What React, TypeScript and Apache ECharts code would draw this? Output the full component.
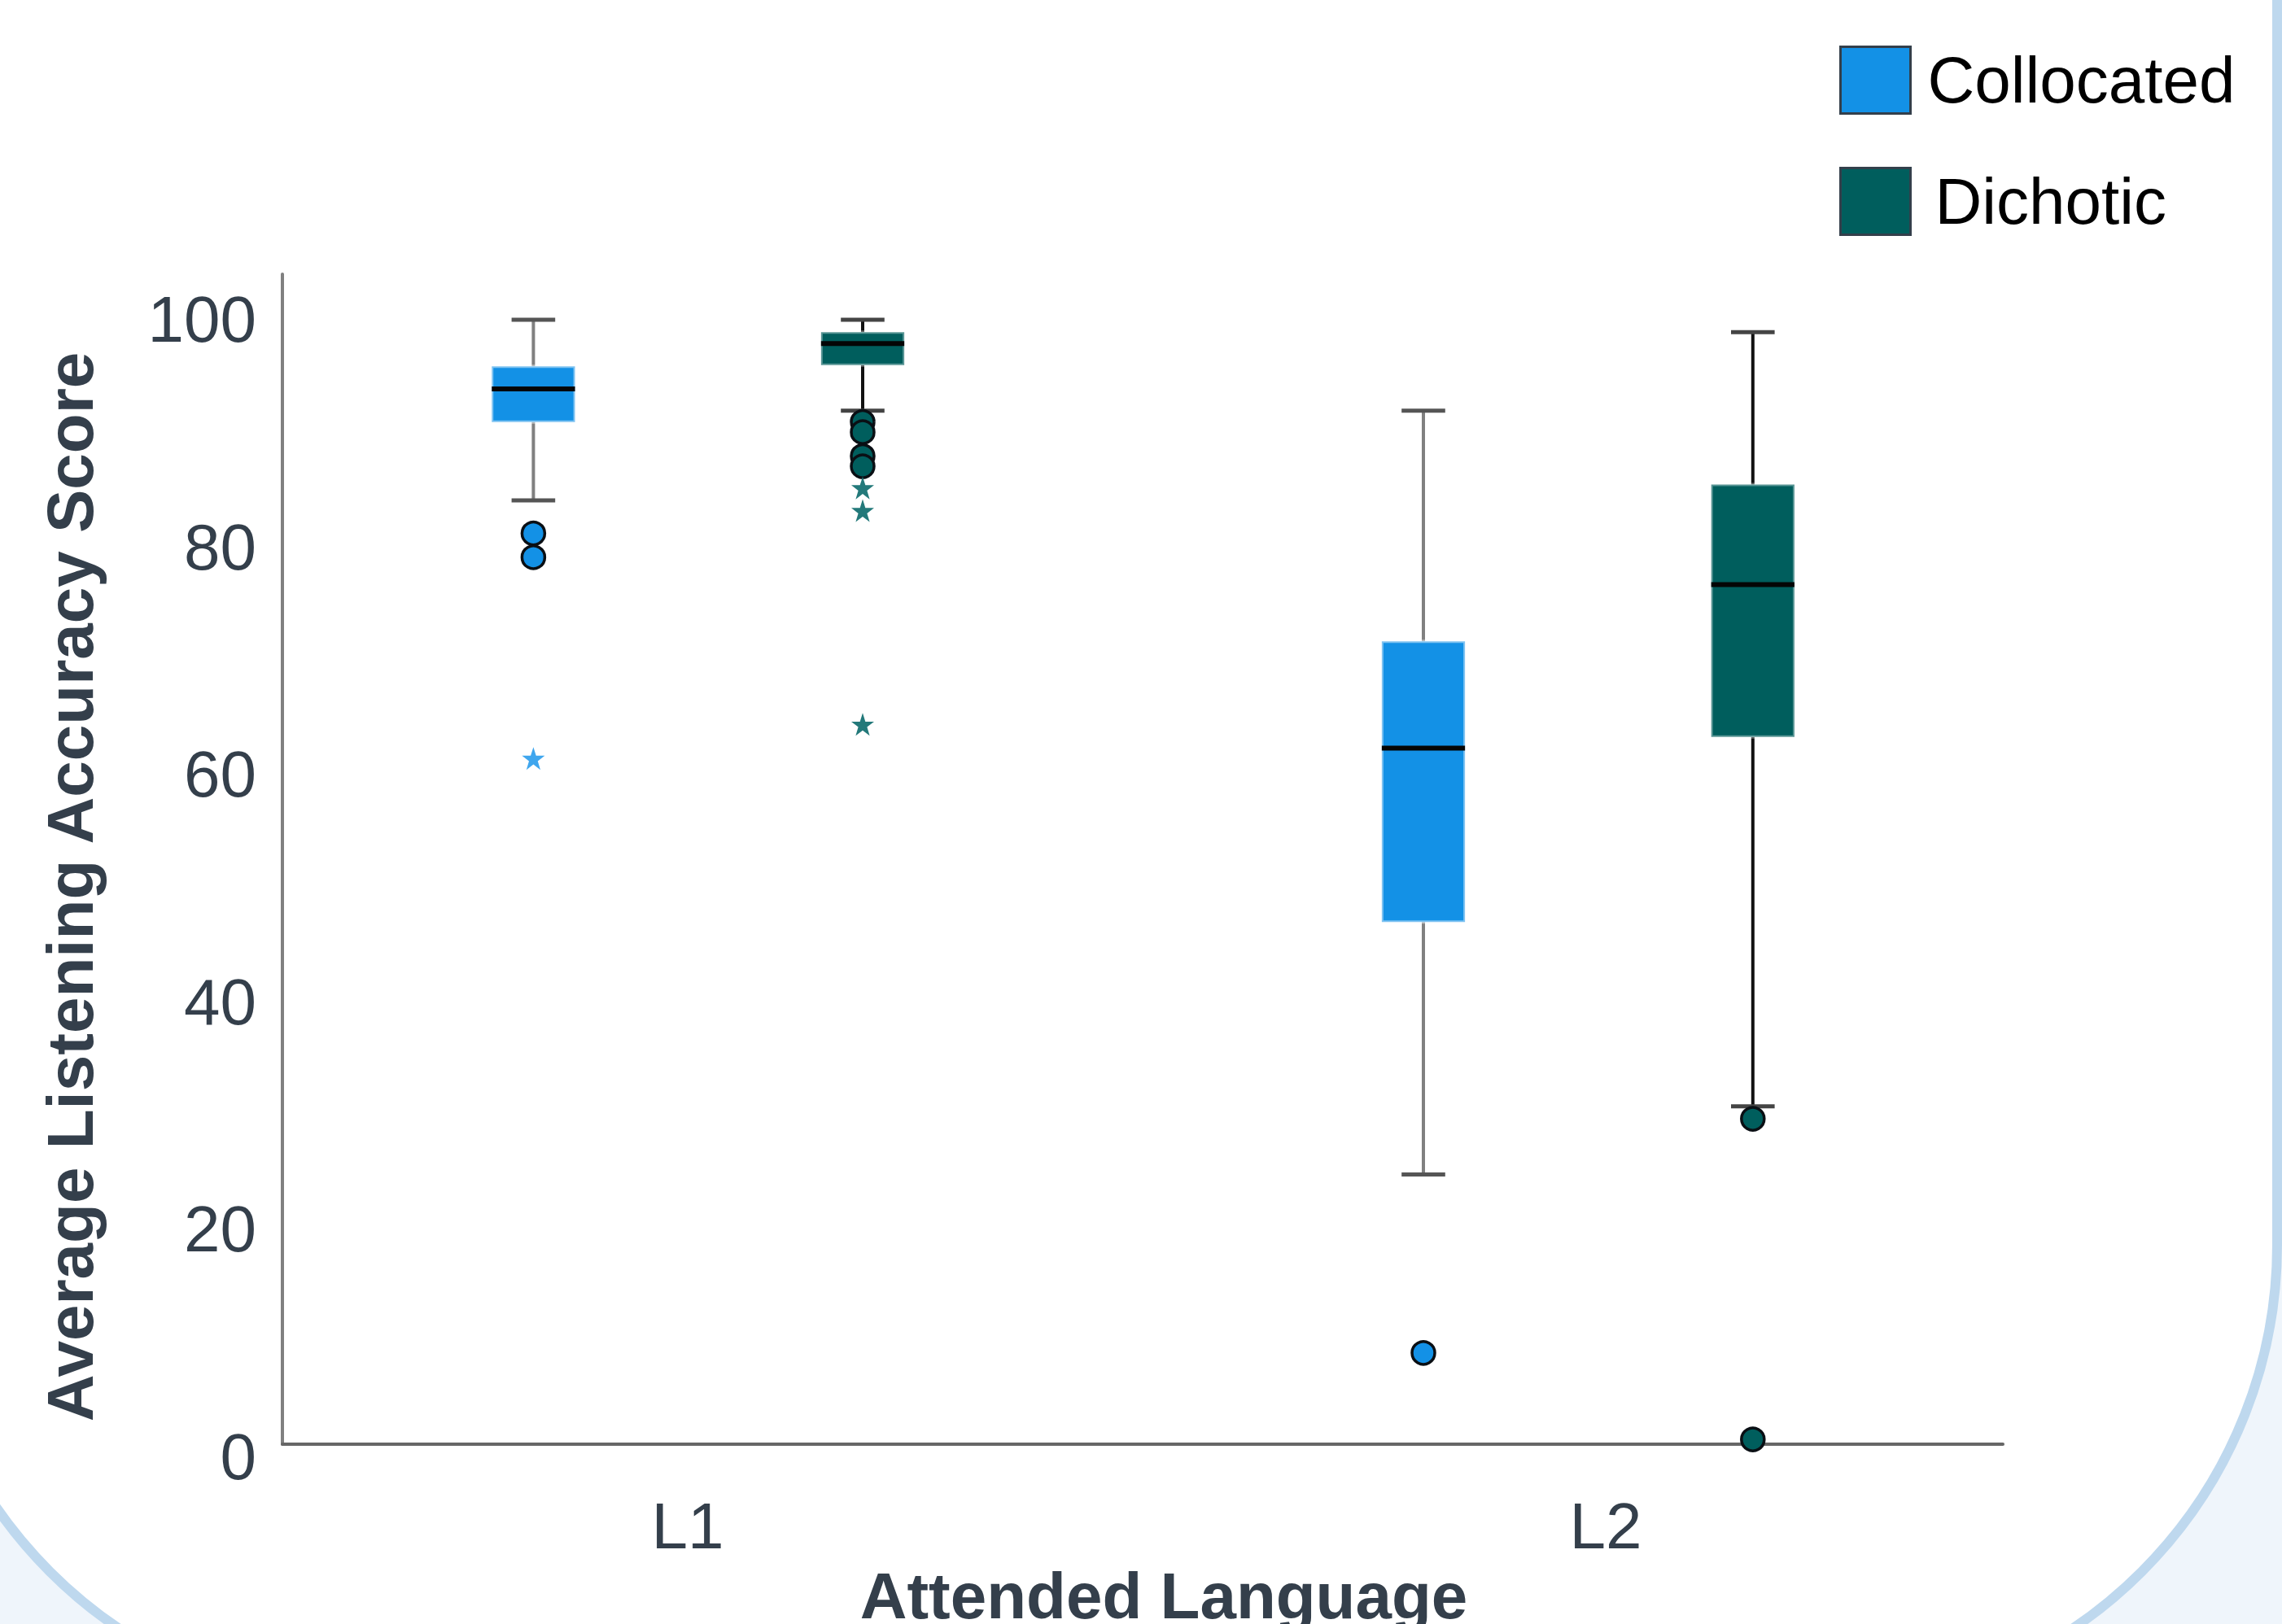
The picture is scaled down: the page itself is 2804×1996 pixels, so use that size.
import React, { useEffect, useRef } from 'react';
import * as echarts from 'echarts';

// ---------- data ----------
const categories = ['L1', 'L2'];
const seriesNames = ['Collocated', 'Dichotic'];
// [whisker low, Q1, median, Q3, whisker high]
const collocatedStats = [
  [84.1, 91.0, 93.9, 95.9, 100],
  [24.8, 47.0, 62.3, 71.7, 92.0],
];
const dichoticStats = [
  [92.0, 96.0, 97.9, 98.9, 100],
  [30.8, 63.3, 76.7, 85.5, 98.9],
];
// mild outliers (circles)
const collocatedOutliers = [['L1', 81.2], ['L1', 79.1], ['L2', 9.1]];
const dichoticOutliers = [['L1', 91.0], ['L1', 90.1], ['L1', 88.0], ['L1', 87.1], ['L2', 29.7], ['L2', 1.5]];
// extreme outliers (stars)
const collocatedExtremes = [['L1', 61.4]];
const dichoticExtremes = [['L1', 85.2], ['L1', 83.2], ['L1', 64.4]];
// y axis
const yMin = 0;
const yMax = 104;
const yInterval = 20;

// ---------- style ----------
const FONT = '"Liberation Sans", Arial, Helvetica, sans-serif';
const BLUE = '#1391E6';
const TEAL = '#005E5D';
const INK = '#343F4B';
const STAR = 'path://M12,0 L14.7,8.4 L23.4,8.4 L16.4,13.6 L19,22 L12,16.8 L5,22 L7.6,13.6 L0.6,8.4 L9.3,8.4 Z';

function makeRenderer(fill: string, boxStroke: string, whisker: string, cap: string) {
  return (params: any, api: any) => {
    const idx = api.value(0);
    const band = api.size([1, 0])[0];
    const bw = band * 0.0935;
    const cw = band * 0.049;
    const pMin = api.coord([idx, api.value(1)]);
    const pQ1 = api.coord([idx, api.value(2)]);
    const pMed = api.coord([idx, api.value(3)]);
    const pQ3 = api.coord([idx, api.value(4)]);
    const pMax = api.coord([idx, api.value(5)]);
    const x = pMed[0];
    return {
      type: 'group',
      children: [
        { type: 'line', shape: { x1: x, y1: pMax[1], x2: x, y2: pQ3[1] }, style: { stroke: whisker, lineWidth: 4 } },
        { type: 'line', shape: { x1: x, y1: pQ1[1], x2: x, y2: pMin[1] }, style: { stroke: whisker, lineWidth: 4 } },
        { type: 'line', shape: { x1: x - cw / 2, y1: pMax[1], x2: x + cw / 2, y2: pMax[1] }, style: { stroke: cap, lineWidth: 5 } },
        { type: 'line', shape: { x1: x - cw / 2, y1: pMin[1], x2: x + cw / 2, y2: pMin[1] }, style: { stroke: cap, lineWidth: 5 } },
        {
          type: 'rect',
          shape: { x: x - bw / 2, y: pQ3[1], width: bw, height: pQ1[1] - pQ3[1] },
          style: { fill, stroke: boxStroke, lineWidth: 4 },
        },
        { type: 'line', shape: { x1: x - bw / 2, y1: pMed[1], x2: x + bw / 2, y2: pMed[1] }, style: { stroke: '#050505', lineWidth: 6 } },
      ],
    };
  };
}

const hiddenX = (g: number) => ({ type: 'category', data: categories, gridIndex: g, show: false });
const hiddenY = (g: number) => ({ type: 'value', min: yMin, max: yMax, interval: yInterval, gridIndex: g, show: false });

const option: any = {
  animation: false,
  backgroundColor: '#EFF5FB',
  textStyle: { fontFamily: FONT },
  graphic: [
    {
      type: 'rect',
      z: -10,
      silent: true,
      shape: { x: -105, y: -600, width: 2903, height: 2698, r: 568 },
      style: { fill: '#FFFFFF', stroke: '#BED8EE', lineWidth: 12 },
    },
    {
      type: 'text',
      x: 86,
      y: 1090,
      rotation: Math.PI / 2,
      style: {
        text: 'Average Listening Accuracy Score',
        fontSize: 80,
        fontWeight: 'bold',
        fontFamily: FONT,
        fill: INK,
        align: 'center',
        verticalAlign: 'middle',
      },
    },
    {
      type: 'text',
      x: 1430,
      y: 1961,
      style: {
        text: 'Attended Language',
        fontSize: 80,
        fontWeight: 'bold',
        fontFamily: FONT,
        fill: INK,
        align: 'center',
        verticalAlign: 'middle',
      },
    },
  ],
  legend: {
    orient: 'vertical',
    left: 2260,
    top: 56,
    padding: 0,
    itemGap: 64,
    itemWidth: 86,
    itemHeight: 82,
    textStyle: { fontSize: 80, color: '#000000', fontFamily: FONT, padding: [0, 0, 0, 16], lineHeight: 82 },
    data: [
      { name: seriesNames[0], icon: 'rect', itemStyle: { color: BLUE, borderColor: '#333F4B', borderWidth: 3 } },
      {
        name: seriesNames[1],
        icon: 'rect',
        itemStyle: { color: TEAL, borderColor: '#333F4B', borderWidth: 3 },
        textStyle: { fontSize: 80, color: '#000000', fontFamily: FONT, padding: [0, 0, 0, 25], lineHeight: 82 },
      },
    ],
  },
  grid: [
    { left: 108.6, right: 508.2, top: 337, bottom: 206, outerBoundsMode: 'none' },
    { left: 513.1, right: 103.3, top: 337, bottom: 206, outerBoundsMode: 'none' },
    { left: 347, right: 343, top: 337, bottom: 206, outerBoundsMode: 'none' },
    { left: 347, right: 343, top: 337, bottom: 221, outerBoundsMode: 'none' },
    { left: 281, right: 267, top: 337, bottom: 221, outerBoundsMode: 'none' },
  ],
  xAxis: [
    hiddenX(0),
    hiddenX(1),
    hiddenX(2),
    {
      type: 'category',
      data: categories,
      gridIndex: 3,
      axisLine: { show: true, lineStyle: { color: '#666666', width: 4 } },
      axisTick: { show: false },
      axisLabel: { show: false },
      splitLine: { show: false },
    },
    {
      type: 'category',
      data: categories,
      gridIndex: 4,
      axisLine: { show: false },
      axisTick: { show: false },
      axisLabel: { show: true, margin: 60, fontSize: 80, color: INK, fontFamily: FONT },
      splitLine: { show: false },
    },
  ],
  yAxis: [
    hiddenY(0),
    hiddenY(1),
    {
      type: 'value',
      gridIndex: 2,
      min: yMin,
      max: yMax,
      interval: yInterval,
      axisLine: { show: false },
      axisTick: { show: false },
      splitLine: { show: false },
      axisLabel: {
        show: true,
        margin: 32,
        fontSize: 80,
        color: INK,
        fontFamily: FONT,
        formatter: (v: number) => (v % yInterval === 0 ? String(v) : ''),
      },
    },
    {
      type: 'value',
      gridIndex: 3,
      min: yMin,
      max: yMax,
      interval: yInterval,
      axisLine: { show: true, lineStyle: { color: '#808080', width: 4 } },
      axisTick: { show: false },
      axisLabel: { show: false },
      splitLine: { show: false },
    },
    { type: 'value', gridIndex: 4, min: yMin, max: yMax, interval: yInterval, show: false },
  ],
  series: [
    {
      name: seriesNames[0],
      type: 'custom',
      xAxisIndex: 0,
      yAxisIndex: 0,
      itemStyle: { color: BLUE },
      encode: { x: 0, y: [1, 2, 3, 4, 5] },
      data: categories.map((c, i) => [i, ...collocatedStats[i]]),
      renderItem: makeRenderer(BLUE, 'rgba(255,255,255,0.45)', '#808080', '#555555'),
      z: 3,
    },
    {
      name: seriesNames[1],
      type: 'custom',
      xAxisIndex: 1,
      yAxisIndex: 1,
      itemStyle: { color: TEAL },
      encode: { x: 0, y: [1, 2, 3, 4, 5] },
      data: categories.map((c, i) => [i, ...dichoticStats[i]]),
      renderItem: makeRenderer(TEAL, 'rgba(255,255,255,0.35)', '#111111', '#444444'),
      z: 3,
    },
    {
      name: 'Collocated outliers',
      type: 'scatter',
      xAxisIndex: 0,
      yAxisIndex: 0,
      symbol: 'circle',
      symbolSize: 28,
      itemStyle: { color: BLUE, borderColor: '#0A0F14', borderWidth: 3.5, opacity: 1 },
      data: collocatedOutliers,
      z: 4,
    },
    {
      name: 'Dichotic outliers',
      type: 'scatter',
      xAxisIndex: 1,
      yAxisIndex: 1,
      symbol: 'circle',
      symbolSize: 28,
      itemStyle: { color: TEAL, borderColor: '#0A0F14', borderWidth: 3.5, opacity: 1 },
      data: dichoticOutliers,
      z: 4,
    },
    {
      name: 'Collocated extremes',
      type: 'scatter',
      xAxisIndex: 0,
      yAxisIndex: 0,
      symbol: STAR,
      symbolSize: 28,
      itemStyle: { color: '#3FA6EE', opacity: 1 },
      data: collocatedExtremes,
      z: 4,
    },
    {
      name: 'Dichotic extremes',
      type: 'scatter',
      xAxisIndex: 1,
      yAxisIndex: 1,
      symbol: STAR,
      symbolSize: 28,
      itemStyle: { color: '#23797A', opacity: 1 },
      data: dichoticExtremes,
      z: 4,
    },
  ],
};

export default function App() {
  const ref = useRef<HTMLDivElement>(null);
  useEffect(() => {
    if (!ref.current) return;
    const chart = echarts.init(ref.current, null, { renderer: 'svg' });
    chart.setOption(option);
    return () => chart.dispose();
  }, []);
  return (
    <div
      ref={ref}
      style={{ position: 'fixed', left: 0, top: 0, width: 2804, height: 1996 }}
    />
  );
}
